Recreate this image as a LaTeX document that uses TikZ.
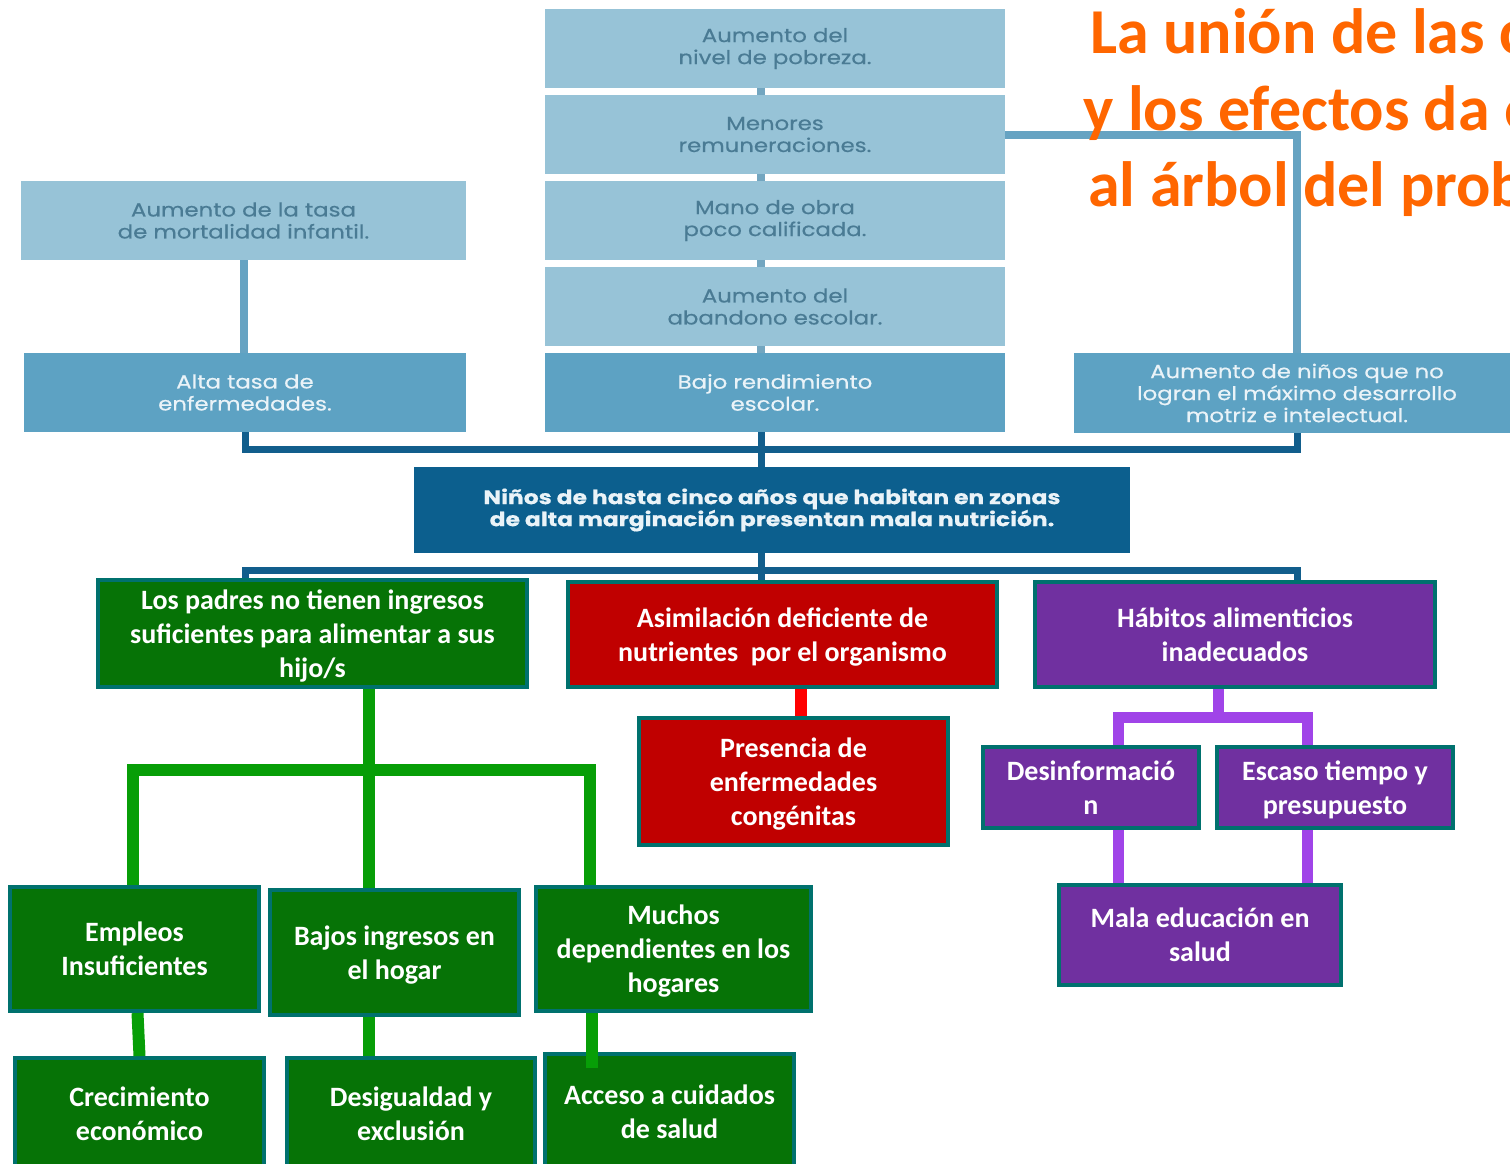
\documentclass[tikz,border=0pt]{standalone}
\usepackage{fontspec}
\setmainfont{Carlito}
\newfontfamily\gothic[FakeStretch=1.2,FakeBold=0.5]{Poppins}
\usetikzlibrary{positioning}
\definecolor{skylight}{HTML}{97C3D7}
\definecolor{skymid}{HTML}{5DA2C3}
\definecolor{skytext}{HTML}{4A7B94}
\definecolor{midtext}{HTML}{EAF3F8}
\definecolor{navyblue}{HTML}{0C5F8E}
\definecolor{navyline}{HTML}{125E8C}
\definecolor{skyline}{HTML}{66A3C2}
\definecolor{stubcol}{HTML}{73A6C0}
\definecolor{leafgreen}{HTML}{067306}
\definecolor{branchgreen}{HTML}{079E07}
\definecolor{tealline}{HTML}{00716E}
\definecolor{blood}{HTML}{C00000}
\definecolor{brightred}{HTML}{FF0000}
\definecolor{grape}{HTML}{7030A0}
\definecolor{lilac}{HTML}{A044E8}
\definecolor{titleorange}{HTML}{FF6600}

\begin{document}
\begin{tikzpicture}[x=1pt,y=-1pt,
lightbox/.style={fill=skylight,text=skytext,inner sep=0pt,align=center,
  font=\gothic\fontsize{19}{22}\selectfont},
midbox/.style={fill=skymid,text=midtext,inner sep=0pt,align=center,
  font=\gothic\fontsize{19}{22}\selectfont},
corebox/.style={fill=navyblue,text=midtext,inner sep=0pt,align=center,
  font=\gothic\bfseries\fontsize{19.5}{22}\selectfont},
causebox/.style={draw=tealline,line width=4pt,text=white,inner sep=0pt,align=center,
  font=\bfseries\fontsize{28}{34}\selectfont,text depth=-6pt},
greenbox/.style={causebox,fill=leafgreen},
redbox/.style={causebox,fill=blood},
violetbox/.style={causebox,fill=grape},
stub/.style={line width=8pt,stubcol},
skyconn/.style={line width=8pt,skyline},
navyconn/.style={line width=7pt,navyline},
greenconn/.style={line width=12pt,branchgreen},
redconn/.style={line width=12pt,brightred},
violetconn/.style={line width=11pt,lilac},
titletext/.style={anchor=base west,inner sep=0pt,text=titleorange,
  font=\bfseries\fontsize{64}{76}\selectfont}]
\useasboundingbox (0,0) rectangle (1510,1163);
\clip (0,0) rectangle (1510,1163);
\fill[white] (0,0) rectangle (1510,1163);

% efectos
\node[lightbox,minimum width=460,minimum height=79] (pobreza) at (775,48.5) {Aumento del\\nivel de pobreza.};
\node[lightbox,minimum width=460,minimum height=79] (remun) at (775,134.5) {Menores\\remuneraciones.};
\node[lightbox,minimum width=460,minimum height=79] (califica) at (775,220.5) {Mano de obra\\poco calificada.};
\node[lightbox,minimum width=460,minimum height=79] (abandono) at (775,306.5) {Aumento del\\abandono escolar.};
\node[midbox,minimum width=460,minimum height=79] (bajorend) at (775,392.5) {Bajo rendimiento\\escolar.};
\node[lightbox,minimum width=445,minimum height=79] (mortal) at (243.5,220.5) {Aumento de la tasa\\de mortalidad infantil.};
\node[midbox,minimum width=442,minimum height=79] (altatasa) at (245,392.5) {Alta tasa de\\enfermedades.};
\node[midbox,minimum width=446,minimum height=80] (ninos) at (1297,393) {Aumento de niños que no\\logran el máximo desarrollo\\motriz e intelectual.};

% problema central
\node[corebox,minimum width=716,minimum height=86] (core) at (772,510) {Niños de hasta cinco años que habitan en zonas\\de alta marginación presentan mala nutrición.};

% causas
\node[greenbox,minimum width=429,minimum height=107] (padres) at (312.5,633.5) {Los padres no tienen ingresos\\suficientes para alimentar a sus\\hijo/s};
\node[redbox,minimum width=429,minimum height=105] (asimil) at (782.5,634.5) {Asimilación deficiente de\\nutrientes\ \ por el organismo};
\node[violetbox,minimum width=400,minimum height=105] (habitos) at (1235,634.5) {Hábitos alimenticios\\inadecuados};
\node[redbox,minimum width=309,minimum height=127] (congen) at (793.5,781.5) {Presencia de\\enfermedades\\congénitas};
\node[violetbox,minimum width=216,minimum height=81] (desinf) at (1091,787.5) {Desinformació\\n};
\node[violetbox,minimum width=236,minimum height=81] (escaso) at (1335,787.5) {Escaso tiempo y\\presupuesto};
\node[violetbox,minimum width=282,minimum height=100] (mala) at (1200,935) {Mala educación en\\salud};
\node[greenbox,minimum width=249,minimum height=124] (empleos) at (134.5,949) {Empleos\\Insuficientes};
\node[greenbox,minimum width=249,minimum height=125] (bajos) at (394.5,952.5) {Bajos ingresos en\\el hogar};
\node[greenbox,minimum width=275,minimum height=124] (muchos) at (673.5,949) {Muchos\\dependientes en los\\hogares};
\node[greenbox,minimum width=249,minimum height=112] (crec) at (139.5,1114) {Crecimiento\\económico};
\node[greenbox,minimum width=248,minimum height=112] (desig) at (411,1114) {Desigualdad y\\exclusión};
\node[greenbox,minimum width=249,minimum height=116] (acceso) at (669.5,1112) {Acceso a cuidados\\de salud};

% conectores
\coordinate (trunk) at (761,0);
\coordinate (ubar) at (0,449);
\coordinate (lbar) at (0,570);
\foreach \a/\b in {pobreza/remun,remun/califica,califica/abandono,abandono/bajorend}
  \draw[stub] (\a.south -| trunk) -- (\b.north -| trunk);
\draw[skyconn] (mortal.south) -- (mortal.south |- altatasa.north);
\draw[skyconn] (remun.east) -| (ninos.north);
\draw[navyconn] (altatasa.south) |- (ninos.south |- ubar) -- (ninos.south);
\draw[navyconn] (bajorend.south -| trunk) -- (core.north -| trunk);
\draw[navyconn] (padres.north -| altatasa.south) |- (lbar -| ninos.south) -- (habitos.north -| ninos.south);
\draw[navyconn] (core.south -| trunk) -- (asimil.north -| trunk);

\coordinate (rt) at (801,0);
\draw[redconn] (asimil.south -| rt) -- (congen.north -| rt);

\coordinate (vt) at (1218,0);
\coordinate (vl) at (1118,717);
\coordinate (vr) at (1307,717);
\draw[violetconn] (habitos.south -| vt) -- (vl -| vt);
\draw[violetconn] (desinf.north -| vl) -- (vl) -- (vr) -- (escaso.north -| vr);
\draw[violetconn] (desinf.south -| vl) -- (mala.north -| vl);
\draw[violetconn] (escaso.south -| vr) -- (mala.north -| vr);

\coordinate (gt) at (369,0);
\coordinate (gl) at (133,770);
\coordinate (gr) at (590,770);
\coordinate (gend) at (592,1068);
\draw[greenconn] (padres.south -| gt) -- (bajos.north -| gt);
\draw[greenconn] (empleos.north -| gl) -- (gl) -- (gr) -- (muchos.north -| gr);
\draw[greenconn] ([xshift=3pt]empleos.south) -- (crec.north);
\draw[greenconn] (bajos.south -| gt) -- (desig.north -| gt);
\draw[greenconn] (muchos.south -| gend) -- (gend);

% titulo
\node[titletext] (title1) at (1090,53) {La unión de las causas};
\node[titletext] (title2) at (1083,130) {y los efectos da origen};
\node[titletext] (title3) at (1088,206) {al árbol del problema};
\end{tikzpicture}
\end{document}
